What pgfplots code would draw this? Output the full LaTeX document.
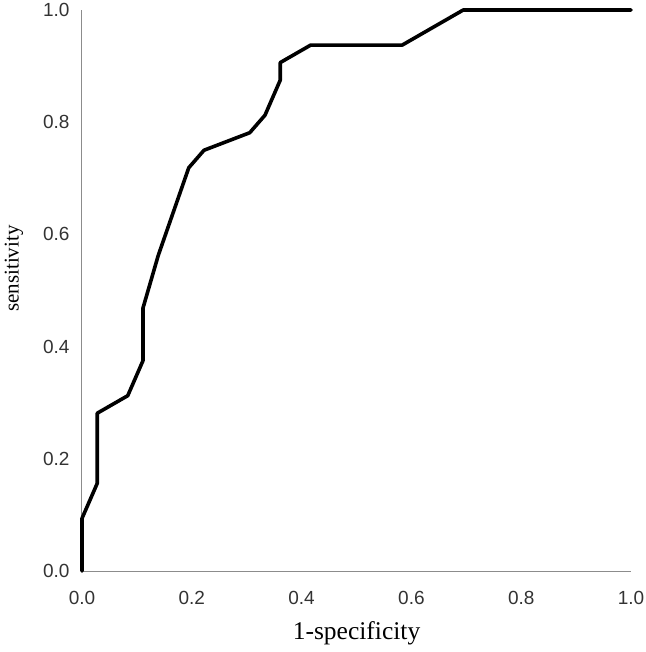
\documentclass[border=0pt]{standalone}
\usepackage{fontspec}
\setmainfont{Liberation Serif}
\newfontfamily\ticksf{Liberation Sans}
\usepackage{pgfplots}
\pgfplotsset{compat=1.18}
\begin{document}
\begin{tikzpicture}
\path[use as bounding box] (-82pt,-81pt) rectangle (563pt,571pt);
\begin{axis}[
  at={(0,0)}, anchor=south west,
  scale only axis,
  width=549pt, height=561pt,
  xmin=0, xmax=1, ymin=0, ymax=1,
  axis x line*=bottom, axis y line*=left,
  axis line style={draw=black!45, line width=1pt},
  major tick length=0pt,
  xtick={0,0.2,0.4,0.6,0.8,1.0},
  ytick={0,0.2,0.4,0.6,0.8,1.0},
  /pgf/number format/assume math mode=true,
  /pgf/number format/fixed, /pgf/number format/fixed zerofill,
  /pgf/number format/precision=1,
  tick label style={font=\ticksf\fontsize{19}{21}\selectfont, text=black!80},
  xticklabel style={yshift=-17pt},
  yticklabel style={xshift=-9pt},
  xlabel={1-specificity},
  ylabel={sensitivity},
  xlabel style={font=\fontsize{25.5}{27}\selectfont, at={(axis description cs:0.5,0)}, anchor=center, yshift=-62pt},
  ylabel style={font=\fontsize{21}{23}\selectfont, at={(axis description cs:-0.124,0.539)}, anchor=center},
  clip=false,
]
\addplot[black, line width=3.6pt, line join=round, line cap=round] coordinates {
(0,0)
(0,0.09375)
(0.02778,0.15625)
(0.02778,0.28125)
(0.08333,0.3125)
(0.11111,0.375)
(0.11111,0.46875)
(0.13889,0.5625)
(0.19444,0.71875)
(0.22222,0.75)
(0.30556,0.78125)
(0.33333,0.8125)
(0.36111,0.875)
(0.36111,0.90625)
(0.41667,0.9375)
(0.58333,0.9375)
(0.69444,1)
(1,1)
};
\end{axis}
\end{tikzpicture}
\end{document}
